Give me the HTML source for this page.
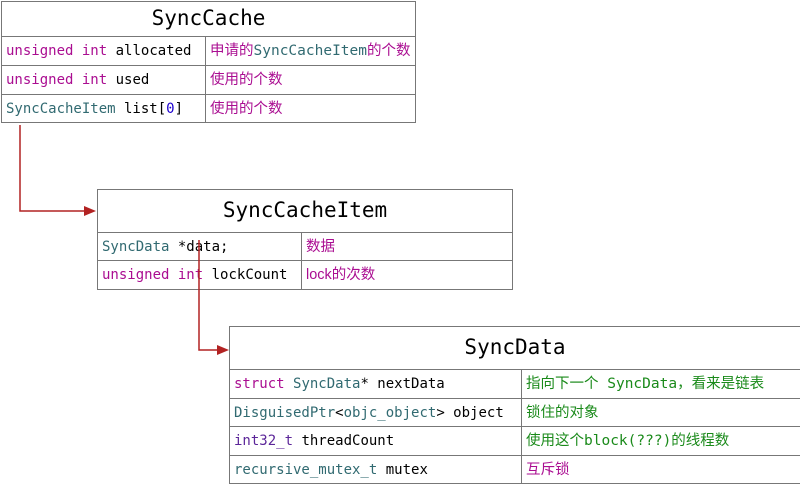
<!DOCTYPE html>
<html><head><meta charset="utf-8"><style>
body{margin:0;width:800px;height:484px;background:#fff;position:relative;overflow:hidden;font-family:"DejaVu Sans Mono","Liberation Mono","Noto Sans CJK SC",monospace;}
.t{position:absolute;border:1px solid #777;box-sizing:border-box;background:#fff;}
.h{position:absolute;left:0;right:0;text-align:center;font-size:21px;color:#000;}
.r{position:absolute;left:0;right:0;border-top:1px solid #777;font-size:14px;white-space:nowrap;}
.r span.a{position:absolute;left:4px;}
.r span.b{position:absolute;font-family:"DejaVu Sans Mono","Noto Sans CJK SC",monospace;font-size:14.5px;}
.v{position:absolute;top:0;bottom:0;border-left:1px solid #777;}
.k{color:#aa0d91}.c{color:#316a71}.p{color:#5c2699}.n{color:#1c00cf}.g{color:#1a8a1a}.m{color:#aa0d91}
</style></head><body>

<div class="t" style="left:1px;top:1px;width:415px;height:122px;">
<div class="h" style="top:1px;line-height:30px;">SyncCache</div>
<div class="r" style="top:34px;height:29px;line-height:29px;"><span class="a"><span class="k">unsigned</span> <span class="k">int</span> allocated</span><span class="b" style="left:208px"><span class="m">申请的</span><span class="c">SyncCacheItem</span><span class="m">的个数</span></span></div>
<div class="r" style="top:63px;height:29px;line-height:29px;"><span class="a"><span class="k">unsigned</span> <span class="k">int</span> used</span><span class="b m" style="left:208px">使用的个数</span></div>
<div class="r" style="top:92px;height:29px;line-height:29px;"><span class="a"><span class="c">SyncCacheItem</span> list[<span class="n">0</span>]</span><span class="b m" style="left:208px">使用的个数</span></div>
<div class="v" style="left:203px;top:34px;"></div>
</div>

<div class="t" style="left:97px;top:189px;width:416px;height:101px;">
<div class="h" style="top:5px;line-height:30px;">SyncCacheItem</div>
<div class="r" style="top:42px;height:28px;line-height:28px;"><span class="a"><span class="c">SyncData</span> *data;</span><span class="b m" style="left:208px">数据</span></div>
<div class="r" style="top:70px;height:29px;line-height:28px;"><span class="a"><span class="k">unsigned</span> <span class="k">int</span> lockCount</span><span class="b m" style="left:208px;font-family:'Liberation Sans','Noto Sans CJK SC',sans-serif">lock的次数</span></div>
<div class="v" style="left:203px;top:42px;"></div>
</div>

<div class="t" style="left:229px;top:326px;width:572px;height:158px;">
<div class="h" style="top:5px;line-height:30px;">SyncData</div>
<div class="r" style="top:42px;height:29px;line-height:28px;"><span class="a"><span class="k">struct</span> <span class="c">SyncData</span>* nextData</span><span class="b g" style="left:296px">指向下一个 SyncData，看来是链表</span></div>
<div class="r" style="top:71px;height:28px;line-height:28px;"><span class="a"><span class="c">DisguisedPtr</span>&lt;<span class="c">objc_object</span>&gt; object</span><span class="b g" style="left:296px">锁住的对象</span></div>
<div class="r" style="top:99px;height:29px;line-height:28px;"><span class="a"><span class="p">int32_t</span> threadCount</span><span class="b g" style="left:296px">使用这个block(???)的线程数</span></div>
<div class="r" style="top:128px;height:29px;line-height:28px;"><span class="a"><span class="c">recursive_mutex_t</span> mutex</span><span class="b m" style="left:296px">互斥锁</span></div>
<div class="v" style="left:291px;top:42px;"></div>
</div>

<svg style="position:absolute;left:0;top:0;z-index:5" width="800" height="484">
<polyline points="20,125 20,211 88,211" fill="none" stroke="#b22222" stroke-width="1.5"/>
<polygon points="96,211 84,206 84,216" fill="#b22222"/>
<polyline points="199,240 199,350 221,350" fill="none" stroke="#b22222" stroke-width="1.5"/>
<polygon points="229,350 217,345 217,355" fill="#b22222"/>
</svg>
</body></html>
